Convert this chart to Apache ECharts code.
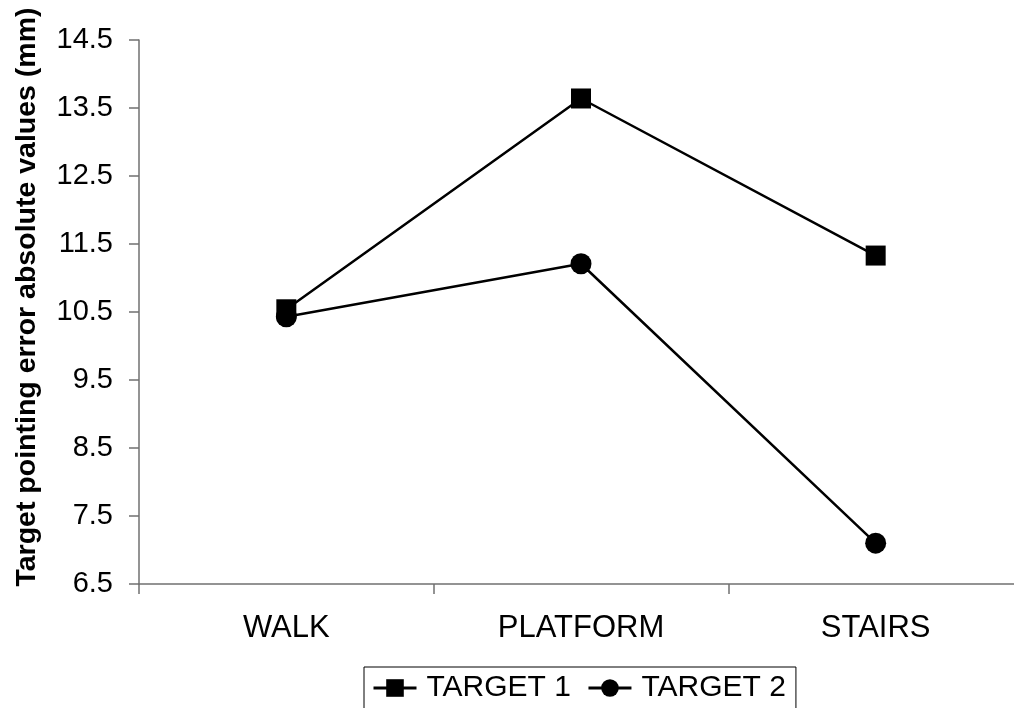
<!DOCTYPE html>
<html>
<head>
<meta charset="utf-8">
<script src="https://cdn.jsdelivr.net/npm/echarts@6/dist/echarts.min.js"></script>
<style>
  html, body { margin: 0; padding: 0; background: #fff; overflow: hidden; }
  /* the plot runs slightly past the right edge of the window */
  #chart { width: 1040px; height: 708px; }
</style>
</head>
<body>
<div id="chart"></div>
<script>
// Conditions on the x axis
const categories = ['WALK', 'PLATFORM', 'STAIRS'];
// Mean absolute pointing error (mm) per target
const target1 = [10.54, 13.64, 11.33];
const target2 = [10.43, 11.21, 7.10];
// Y-axis tick positions
const yTicks = [6.5, 7.5, 8.5, 9.5, 10.5, 11.5, 12.5, 13.5, 14.5];

const FONT = '"Liberation Sans", Arial, Helvetica, sans-serif';
const axisGray = '#707070';

const chart = echarts.init(document.getElementById('chart'), null, { renderer: 'canvas' });

chart.setOption({
  animation: false,
  backgroundColor: '#ffffff',
  textStyle: { fontFamily: FONT, color: '#000' },
  grid: { left: 139, top: 40, width: 884, height: 544, containLabel: false, outerBoundsMode: 'none' },
  xAxis: {
    type: 'category',
    data: categories,
    boundaryGap: true,
    axisLine: { lineStyle: { color: axisGray, width: 1.5 } },
    axisTick: { show: true, length: 10, alignWithLabel: false, lineStyle: { color: axisGray, width: 1.5 } },
    axisLabel: { fontSize: 31, color: '#000', fontFamily: FONT, margin: 29 },
    splitLine: { show: false }
  },
  yAxis: {
    type: 'value',
    min: 6.5,
    max: 14.5,
    name: 'Target pointing error absolute values (mm)',
    nameLocation: 'middle',
    nameRotate: 90,
    nameGap: 97,
    nameTextStyle: { fontSize: 28.5, fontWeight: 'bold', color: '#000', fontFamily: FONT, padding: [0, 0, 0, 30] },
    axisLine: { show: true, lineStyle: { color: axisGray, width: 1.5 } },
    axisTick: { show: true, length: 10, customValues: yTicks, lineStyle: { color: axisGray, width: 1.5 } },
    axisLabel: {
      fontSize: 29, color: '#000', fontFamily: FONT, margin: 26,
      customValues: yTicks,
      formatter: v => v.toFixed(1)
    },
    splitLine: { show: false }
  },
  legend: {
    left: 364,
    top: 667,
    orient: 'horizontal',
    padding: [6, 10, 12, 8],
    itemGap: 16,
    itemWidth: 43,
    itemHeight: 22,
    borderColor: '#000',
    borderWidth: 1,
    lineStyle: { width: 3 },
    textStyle: { fontSize: 30, color: '#000', fontFamily: FONT, padding: [0, 0, 0, 5] },
    data: ['TARGET 1', 'TARGET 2']
  },
  series: [
    {
      name: 'TARGET 1',
      type: 'line',
      data: target1,
      symbol: 'rect',
      symbolSize: 20,
      lineStyle: { color: '#000', width: 2.5 },
      itemStyle: { color: '#000' },
      z: 3
    },
    {
      name: 'TARGET 2',
      type: 'line',
      data: target2,
      symbol: 'circle',
      symbolSize: 21,
      lineStyle: { color: '#000', width: 2.5 },
      itemStyle: { color: '#000' },
      z: 2
    }
  ]
});
</script>
</body>
</html>
